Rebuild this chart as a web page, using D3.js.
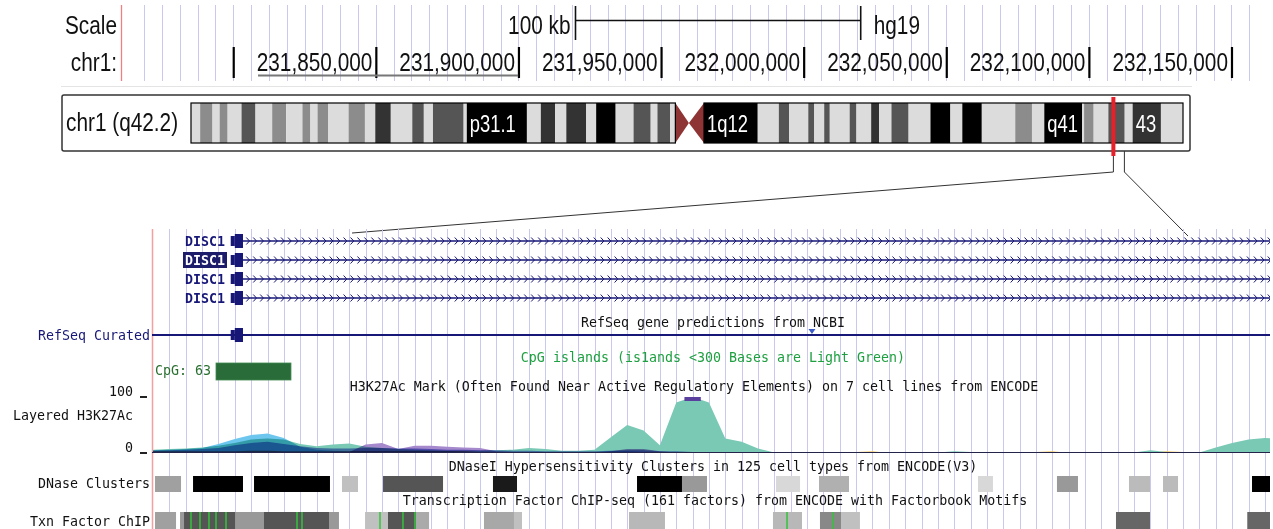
<!DOCTYPE html>
<html>
<head>
<meta charset="utf-8">
<title>DISC1 region, chr1 q42.2</title>
<script src="https://cdn.jsdelivr.net/npm/d3@7"></script>
<style>
  html, body { margin: 0; padding: 0; background: #fff; }
  svg { display: block; }
  .mono { font-family: "DejaVu Sans Mono", "Liberation Mono", monospace; font-size: 13.3px; }
</style>
</head>
<body>
<svg id="chart" width="1273" height="529"></svg>
<script>
// ===== Position ruler (hg19, chr1) =====
const rulerSpan = [231761000, 232156000];
const rulerTicks = [231800000, 231850000, 231900000, 231950000, 232000000, 232050000, 232100000, 232150000];
const rulerTickLabels = ["", "231,850,000", "231,900,000", "231,950,000", "232,000,000", "232,050,000", "232,100,000", "232,150,000"];
const rulerGridStart = 231768750;
const rulerGridStep = 6250;
const scaleBarSpan = [231920000, 232020000];
const scaleBarText = "100 kb";
const assemblyName = "hg19";
const underlinedSpan = [231808700, 231899900];

// ===== Chromosome 1 ideogram (cytobands, Mb) =====
const chromLabel = "chr1 (q42.2)";
const chromLengthMb = 249.25;
const bandNames = ["p36.33","p36.32","p36.31","p36.23","p36.22","p36.21","p36.13","p36.12","p36.11","p35.3","p35.2","p35.1","p34.3","p34.2","p34.1","p33","p32.3","p32.2","p32.1","p31.3","p31.2","p31.1","p22.3","p22.2","p22.1","p21.3","p21.2","p21.1","p13.3","p13.2","p13.1","p12","p11.2","p11.1","q11","q12","q21.1","q21.2","q21.3","q22","q23.1","q23.2","q23.3","q24.1","q24.2","q24.3","q25.1","q25.2","q25.3","q31.1","q31.2","q31.3","q32.1","q32.2","q32.3","q41","q42.11","q42.12","q42.13","q42.2","q42.3","q43","q44"];
const bandEndsMb = [2.3,5.4,7.2,9.2,12.7,16.2,20.4,23.9,28.0,30.0,31.8,34.5,39.6,43.7,46.3,50.2,55.6,58.5,60.8,68.5,69.3,84.4,87.9,91.5,94.3,99.3,101.8,106.7,111.2,115.5,117.2,120.4,121.7,125.1,128.9,142.4,147.7,150.3,155.1,156.6,159.1,160.5,165.5,167.2,170.9,172.9,176.0,180.3,185.8,190.8,193.8,198.7,207.1,211.3,214.4,223.9,224.4,226.8,230.5,234.6,236.6,243.7,249.25];
const bandStains = ["gneg","gpos25","gneg","gpos25","gneg","gpos50","gneg","gpos25","gneg","gpos25","gneg","gpos25","gneg","gpos25","gneg","gpos75","gneg","gpos50","gneg","gpos50","gneg","gpos100","gneg","gpos75","gneg","gpos75","gneg","gpos100","gneg","gpos50","gneg","gpos50","gneg","acen","acen","gvar","gneg","gpos50","gneg","gpos50","gneg","gpos50","gneg","gpos50","gneg","gpos75","gneg","gpos50","gneg","gpos100","gneg","gpos100","gneg","gpos25","gneg","gpos100","gneg","gpos25","gneg","gpos50","gneg","gpos75","gneg"];
const labelledBands = ["p31.1", "q12", "q41", "q43"];
const labelledBandText = ["p31.1", "1q12", "q41", "43"];
const viewStartMb = 231.76;

// ===== Zoomed DISC1 view (kb from view start) =====
const viewSpanKb = [-0.13, 136.63];
const gridStepKb = 2;
const transcriptLabels = ["DISC1", "DISC1", "DISC1", "DISC1"];
const selectedTranscript = 1;
const exonUtrStartKb = 9.5;
const exonCdsStartKb = 10.0;
const exonEndKb = 11.0;
const refseqMarkKb = 80.6;
const cpgIslandKb = [7.7, 16.87];
const cpgIslandLabel = "CpG: 63";

// Layered H3K27Ac signal, one value every 2 kb (view max 100)
const signalViewMax = 100;
const signalStepKb = 2;
const hsmm    = [6,7,8,10,13,18,24,26,24,16, 12,15,17,11,9,7,6,5,4,4, 4,5,6,9,7,4,4,6,28,50, 40,14,90,104,90,26,20,8,1,1, 0,0,0,1,1,0,0,0,1,3, 2,0,0,0,1,1,0,0,0,1, 1,5,2,0,1,10,18,24,27,25];
const huvec   = [5,6,7,9,16,25,32,35,27,11, 6,4,3,3,3,3,3,3,3,2, 2,2,2,2,2,1,1,2,3,3, 2,1,1,1,1,1,1,1,2,1, 0,0,0,0,0,0,0,0,0,0, 0,0,0,0,0,0,0,0,0,0, 0,0,0,0,0,0,0,0,1,1];
const k562    = [4,5,6,7,9,14,18,20,16,12, 9,8,8,9,9,8,8,7,6,6, 5,5,4,4,3,3,3,3,4,5, 5,3,3,2,2,2,2,1,1,1, 1,1,0,0,1,0,0,0,0,0, 0,0,0,0,0,0,0,0,0,0, 0,0,0,0,0,0,0,0,1,1];
const nhek    = [0,0,0,1,1,1,1,1,1,1, 1,1,2,15,18,7,13,13,11,10, 9,3,2,1,1,1,1,1,3,7, 7,3,1,1,1,1,0,0,0,0, 0,0,0,0,0,0,0,0,0,0, 0,0,0,0,0,0,0,0,0,0, 0,0,0,0,0,0,0,0,0,0];
const gm12878 = [3,3,3,3,3,3,4,4,3,3, 3,3,3,3,3,3,3,3,3,3, 2,2,2,2,2,2,2,2,2,2, 2,2,2,2,2,1,1,1,1,1, 1,1,1,1,1,1,1,1,1,1, 1,1,1,1,1,1,1,1,1,1, 1,1,1,1,1,1,1,1,1,1];
const h1hesc  = [0,0,0,0,0,0,0,0,0,0, 0,0,0,0,0,0,0,0,0,0, 0,0,0,0,0,0,0,0,0,0, 0,0,0,0,0,0,0,0,0,0, 0,0,0,2,3,0,0,0,0,0, 0,0,0,0,2,3,0,0,0,0, 0,0,3,2,0,0,0,0,0,0];
const nhlf    = [0,0,0,0,0,0,0,0,0,0, 0,0,0,0,0,0,0,0,0,0, 0,0,0,0,0,0,0,0,0,0, 0,0,0,0,0,0,0,0,0,0, 0,0,0,0,0,0,0,0,0,0, 0,0,0,0,0,0,0,0,0,0, 0,0,0,0,2,1,0,0,0,0];
const cellLines = ["GM12878", "H1-hESC", "HSMM", "HUVEC", "K562", "NHEK", "NHLF"];
const cellSignals = [gm12878, h1hesc, hsmm, huvec, k562, nhek, nhlf];
const cellColors = ["#e07c7c", "#f2c65a", "#79c9b5", "#6cc6ee", "#7d8cd8", "#a688cc", "#ee86c0"];

// DNaseI clusters: start, end (kb), score 0-1000
const dnaseStarts = [0.24, 4.89, 12.35, 23.11, 28.13, 41.58, 59.20, 64.70, 76.20, 81.46, 100.91, 110.57, 119.38, 123.54, 134.43];
const dnaseEnds   = [3.42, 11.00, 21.64, 25.07, 35.47, 44.52, 64.70, 67.76, 79.14, 85.13, 102.74, 113.14, 121.95, 125.38, 138.0];
const dnaseScores = [373, 1000, 1000, 247, 667, 898, 1000, 400, 153, 310, 153, 400, 267, 267, 1000];

// Transcription factor ChIP clusters (drawn in order) and Factorbook motif hits
const tfStarts = [0.24, 3.30, 3.79, 13.57, 25.93, 28.74, 32.16, 40.48, 40.48, 58.22, 75.83, 81.58, 81.58, 117.79, 133.85];
const tfEnds   = [2.81, 22.74, 10.03, 21.52, 33.76, 32.16, 33.76, 45.13, 44.15, 62.62, 79.38, 86.47, 84.15, 121.95, 138.0];
const tfScores = [373, 400, 667, 667, 247, 667, 333, 247, 341, 278, 278, 247, 467, 600, 600];
const motifKb  = [4.64, 5.74, 6.84, 7.70, 8.92, 17.61, 18.22, 27.76, 30.57, 32.04, 77.55, 83.18];

// Track titles and labels
const refseqTitle = "RefSeq gene predictions from NCBI";
const cpgTitle = "CpG islands (is1ands <300 Bases are Light Green)";
const h3k27Title = "H3K27Ac Mark (Often Found Near Active Regulatory Elements) on 7 cell lines from ENCODE";
const dnaseTitle = "DNaseI Hypersensitivity Clusters in 125 cell types from ENCODE(V3)";
const tfTitle = "Transcription Factor ChIP-seq (161 factors) from ENCODE with Factorbook Motifs";

// ------------------------------------------------------------------
const svg = d3.select("#chart");
const NARROW = "'Liberation Sans', Arial, sans-serif";
const GRID = "#c9c9f0";
const NAVY = "#171778";

function narrowText(g, str, x, y, size, anchor, fill) {
  return g.append("text")
    .attr("transform", `translate(${x},${y}) scale(0.8,1)`)
    .attr("text-anchor", anchor || "start")
    .style("font-family", NARROW).style("font-size", size + "px")
    .attr("fill", fill || "#111")
    .text(str);
}
function monoText(g, str, x, y, anchor, fill, weight) {
  return g.append("text").attr("class", "mono")
    .attr("x", x).attr("y", y)
    .attr("text-anchor", anchor || "start")
    .attr("fill", fill || "#111")
    .style("font-weight", weight || "normal")
    .text(str);
}

// ---------- ruler ----------
const rulerX = d3.scaleLinear().domain(rulerSpan).range([122, 1248.6]);
const rulerG = svg.append("g");
rulerG.append("line").attr("x1", 61).attr("x2", 1192).attr("y1", 86.5).attr("y2", 86.5).attr("stroke", "#e4e4e4");
rulerG.selectAll("line.grid")
  .data(d3.range(rulerGridStart, rulerSpan[1] + 1500, rulerGridStep))
  .join("line").attr("class", "grid")
  .attr("x1", d => Math.round(rulerX(d)) + 0.5).attr("x2", d => Math.round(rulerX(d)) + 0.5)
  .attr("y1", 5).attr("y2", 81).attr("stroke", GRID).attr("stroke-width", 1);
rulerG.append("line").attr("x1", 121.5).attr("x2", 121.5).attr("y1", 5).attr("y2", 81)
  .attr("stroke", "#f08080").attr("stroke-width", 1.3);

narrowText(rulerG, "Scale", 117, 34, 26, "end");
narrowText(rulerG, "chr1:", 117, 71, 26, "end");

// 100 kb scale bar
const sb0 = rulerX(scaleBarSpan[0]), sb1 = rulerX(scaleBarSpan[1]);
rulerG.append("line").attr("x1", sb0).attr("x2", sb1).attr("y1", 20.5).attr("y2", 20.5).attr("stroke", "#111").attr("stroke-width", 1.5);
[sb0, sb1].forEach(x => rulerG.append("line").attr("x1", x).attr("x2", x).attr("y1", 6).attr("y2", 40).attr("stroke", "#111").attr("stroke-width", 1.6));
narrowText(rulerG, scaleBarText, sb0 - 5, 34, 26, "end");
narrowText(rulerG, assemblyName, sb1 + 13, 34, 26, "start");

// coordinate axis
const rulerAxis = d3.axisBottom(rulerX).tickValues(rulerTicks).tickSize(31)
  .tickFormat((d, i) => rulerTickLabels[i]);
const gAxis = rulerG.append("g").attr("transform", "translate(0,47)").call(rulerAxis);
gAxis.select(".domain").remove();
gAxis.selectAll(".tick line").attr("stroke", "#000").attr("stroke-width", 2.2);
gAxis.selectAll(".tick text")
  .attr("x", null).attr("y", null).attr("dy", null)
  .attr("text-anchor", "end").attr("fill", "#111")
  .attr("transform", "translate(-4,24) scale(0.8,1)")
  .style("font-family", NARROW).style("font-size", "26px");
rulerG.append("line")
  .attr("x1", rulerX(underlinedSpan[0])).attr("x2", rulerX(underlinedSpan[1]))
  .attr("y1", 75.5).attr("y2", 75.5).attr("stroke", "#777").attr("stroke-width", 2);

// ---------- ideogram ----------
const ideoX = d3.scaleLinear().domain([0, chromLengthMb]).range([191, 1183]);
const ideo = svg.append("g");
ideo.append("rect").attr("x", 62).attr("y", 95).attr("width", 1128).attr("height", 56).attr("rx", 2)
  .attr("fill", "#fff").attr("stroke", "#333").attr("stroke-width", 1.5);
narrowText(ideo, chromLabel, 66, 131, 26, "start");

const bands = bandNames.map((n, i) => ({
  name: n, start: i ? bandEndsMb[i - 1] : 0, end: bandEndsMb[i], stain: bandStains[i]
}));
const stainColor = { gneg: "#dcdcdc", gpos25: "#8c8c8c", gpos50: "#555", gpos75: "#333", gpos100: "#000", gvar: "#000", acen: "#8e3434" };
const bandTop = 103, bandBot = 143, bandMid = (bandTop + bandBot) / 2;
ideo.selectAll("rect.band").data(bands.filter(b => b.stain !== "acen")).join("rect").attr("class", "band")
  .attr("x", d => ideoX(d.start)).attr("width", d => ideoX(d.end) - ideoX(d.start))
  .attr("y", bandTop).attr("height", bandBot - bandTop)
  .attr("fill", d => stainColor[d.stain]);
// centromere bow-tie
bands.filter(b => b.stain === "acen").forEach(b => {
  const x0 = ideoX(b.start), x1 = ideoX(b.end);
  const pts = b.name.startsWith("p")
    ? [[x0, bandTop], [x1, bandMid], [x0, bandBot]]
    : [[x1, bandTop], [x0, bandMid], [x1, bandBot]];
  ideo.append("polygon").attr("points", pts.map(p => p.join(",")).join(" ")).attr("fill", stainColor.acen);
});
const pEnd = bands.find(b => b.name === "p11.1").start, qStart = bands.find(b => b.name === "q11").end;
ideo.append("rect").attr("x", ideoX(0)).attr("y", bandTop).attr("width", ideoX(pEnd) - ideoX(0)).attr("height", bandBot - bandTop)
  .attr("fill", "none").attr("stroke", "#000").attr("stroke-width", 1.2);
ideo.append("rect").attr("x", ideoX(qStart)).attr("y", bandTop).attr("width", ideoX(chromLengthMb) - ideoX(qStart)).attr("height", bandBot - bandTop)
  .attr("fill", "none").attr("stroke", "#000").attr("stroke-width", 1.2);
labelledBands.forEach((n, i) => {
  const b = bands.find(d => d.name === n);
  narrowText(ideo, labelledBandText[i], ideoX(b.start) + 3, 132, 23, "start", "#fff");
});
// current view marker and zoom guides
const vx = ideoX(viewStartMb);
ideo.append("path").attr("d", `M${vx},151 V172 L352,233`).attr("fill", "none").attr("stroke", "#333").attr("stroke-width", 1);
ideo.append("path").attr("d", `M${vx + 11},151 V172 L1188,236`).attr("fill", "none").attr("stroke", "#333").attr("stroke-width", 1);
ideo.append("rect").attr("x", vx - 2).attr("y", 97).attr("width", 4).attr("height", 59).attr("fill", "#e8202a");

// ---------- zoomed tracks ----------
const lowerX = d3.scaleLinear().domain(viewSpanKb).range([152, 1270]);
const low = svg.append("g");
svg.append("defs").append("clipPath").attr("id", "view")
  .append("rect").attr("x", 152).attr("y", 225).attr("width", 1118).attr("height", 304);
low.selectAll("line.grid").data(d3.range(gridStepKb, viewSpanKb[1], gridStepKb)).join("line").attr("class", "grid")
  .attr("x1", d => Math.round(lowerX(d)) + 0.5).attr("x2", d => Math.round(lowerX(d)) + 0.5)
  .attr("y1", 229).attr("y2", 529).attr("stroke", GRID).attr("stroke-width", 1);
low.append("line").attr("x1", 152.5).attr("x2", 152.5).attr("y1", 229).attr("y2", 529).attr("stroke", "#f4a0a0").attr("stroke-width", 1.5);

const view = low.append("g").attr("clip-path", "url(#view)");

// DISC1 transcripts
const chevrons = d3.range(exonEndKb + 0.6, viewSpanKb[1] + 1, 0.85);
function drawTranscript(y) {
  view.append("line").attr("x1", lowerX(exonEndKb)).attr("x2", 1272).attr("y1", y).attr("y2", y)
    .attr("stroke", NAVY).attr("stroke-width", 1.6);
  view.append("path").attr("d", chevrons.map(k => {
    const x = lowerX(k);
    return `M${x - 1.6},${y - 3.5} L${x + 1.6},${y} L${x - 1.6},${y + 3.5}`;
  }).join(" ")).attr("fill", "none").attr("stroke", NAVY).attr("stroke-width", 1);
  view.append("rect").attr("x", lowerX(exonUtrStartKb)).attr("width", lowerX(exonCdsStartKb) - lowerX(exonUtrStartKb))
    .attr("y", y - 5).attr("height", 10).attr("fill", NAVY);
  view.append("rect").attr("x", lowerX(exonCdsStartKb)).attr("width", lowerX(exonEndKb) - lowerX(exonCdsStartKb))
    .attr("y", y - 7).attr("height", 14).attr("fill", NAVY);
}
const rowY = [241, 260, 279, 298];
transcriptLabels.forEach((lab, i) => {
  drawTranscript(rowY[i]);
  if (i === selectedTranscript) {
    low.append("rect").attr("x", 183).attr("y", rowY[i] - 8).attr("width", 44).attr("height", 16).attr("fill", "#1c1c6a");
    monoText(low, lab, 225, rowY[i] + 5, "end", "#fff", "bold");
  } else {
    monoText(low, lab, 225, rowY[i] + 5, "end", NAVY, "bold");
  }
});

// RefSeq Curated (collapsed)
monoText(low, refseqTitle, 713, 327, "middle", "#111");
monoText(low, "RefSeq Curated", 150, 340, "end", NAVY);
view.append("line").attr("x1", 152).attr("x2", 1272).attr("y1", 335).attr("y2", 335).attr("stroke", NAVY).attr("stroke-width", 2);
view.append("rect").attr("x", lowerX(exonUtrStartKb)).attr("width", lowerX(exonCdsStartKb) - lowerX(exonUtrStartKb))
  .attr("y", 330).attr("height", 10).attr("fill", NAVY);
view.append("rect").attr("x", lowerX(exonCdsStartKb)).attr("width", lowerX(exonEndKb) - lowerX(exonCdsStartKb))
  .attr("y", 328).attr("height", 14).attr("fill", NAVY);
const mx = lowerX(refseqMarkKb);
view.append("polygon").attr("points", `${mx - 3.5},329 ${mx + 3.5},329 ${mx},334`).attr("fill", "#3c5cc8");

// CpG islands
monoText(low, cpgTitle, 713, 362, "middle", "#1ea040");
view.append("rect").attr("x", lowerX(cpgIslandKb[0])).attr("width", lowerX(cpgIslandKb[1]) - lowerX(cpgIslandKb[0]))
  .attr("y", 363).attr("height", 17).attr("fill", "#2a6b3a").attr("stroke", "#3f8a4f").attr("stroke-width", 0.8);
monoText(low, cpgIslandLabel, lowerX(cpgIslandKb[0]) - 5, 375, "end", "#2a6f30");

// Layered H3K27Ac
monoText(low, h3k27Title, 694, 391, "middle", "#111");
const sigY = d3.scaleLinear().domain([0, signalViewMax]).range([453, 397]).clamp(true);
monoText(low, "100", 133, 396, "end");
monoText(low, "Layered H3K27Ac", 133, 420, "end");
monoText(low, "0", 133, 452, "end");
[signalViewMax, 0].forEach(v => low.append("line").attr("x1", 140).attr("x2", 147)
  .attr("y1", sigY(v)).attr("y2", sigY(v)).attr("stroke", "#222").attr("stroke-width", 2));

const signalKb = hsmm.map((_, i) => i * signalStepKb);
const area = d3.area().x((d, i) => lowerX(signalKb[i])).y0(sigY(0)).y1(d => sigY(d));
const layers = view.append("g").style("isolation", "isolate");
cellSignals.forEach((vals, i) => {
  layers.append("path").datum(vals).attr("d", area)
    .attr("fill", cellColors[i]).style("mix-blend-mode", "multiply");
});
view.append("line").attr("x1", 152).attr("x2", 1272).attr("y1", 452.5).attr("y2", 452.5)
  .attr("stroke", "#24244a").attr("stroke-width", 1.2);
// values above the view limit
hsmm.forEach((v, i) => {
  if (v > signalViewMax) {
    view.append("rect").attr("x", lowerX(signalKb[i] - 1)).attr("width", lowerX(signalKb[i] + 1) - lowerX(signalKb[i] - 1))
      .attr("y", 397).attr("height", 4).attr("fill", "#5a3f9e");
  }
});

// DNase clusters
const shade = s => d3.rgb(Math.round(255 * (1 - s / 1000)), Math.round(255 * (1 - s / 1000)), Math.round(255 * (1 - s / 1000)));
monoText(low, dnaseTitle, 713, 471, "middle", "#111");
monoText(low, "DNase Clusters", 150, 488, "end");
view.selectAll("rect.dnase").data(dnaseScores).join("rect").attr("class", "dnase")
  .attr("x", (d, i) => lowerX(dnaseStarts[i])).attr("width", (d, i) => lowerX(dnaseEnds[i]) - lowerX(dnaseStarts[i]))
  .attr("y", 476).attr("height", 16).attr("fill", d => shade(d));

// Transcription factor ChIP
monoText(low, tfTitle, 715, 505, "middle", "#111");
monoText(low, "Txn Factor ChIP", 150, 526, "end");
view.selectAll("rect.tf").data(tfScores).join("rect").attr("class", "tf")
  .attr("x", (d, i) => lowerX(tfStarts[i])).attr("width", (d, i) => lowerX(tfEnds[i]) - lowerX(tfStarts[i]))
  .attr("y", 512).attr("height", 18).attr("fill", d => shade(d));
view.selectAll("line.motif").data(motifKb).join("line").attr("class", "motif")
  .attr("x1", d => lowerX(d)).attr("x2", d => lowerX(d)).attr("y1", 512).attr("y2", 530)
  .attr("stroke", "#33c43c").attr("stroke-width", 1.5);
</script>
</body>
</html>
